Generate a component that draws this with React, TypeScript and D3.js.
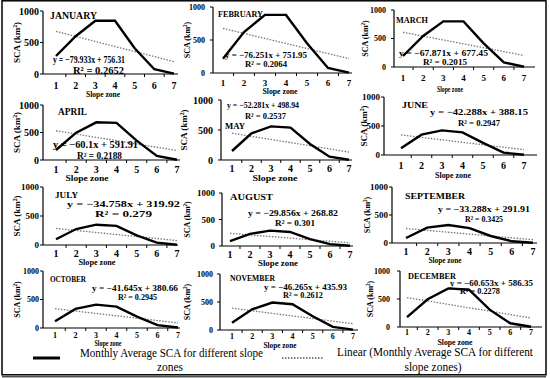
import React from "react";
import * as d3 from "d3";

const months = ["JANUARY","FEBRUARY","MARCH","APRIL","MAY","JUNE","JULY","AUGUST","SEPTEMBER","OCTOBER","NOVEMBER","DECEMBER"];
const zones = [1, 2, 3, 4, 5, 6, 7];
const yTicks = [0, 500, 1000];

const janSCA = [286, 600, 846, 845, 408, 75, 5];
const febSCA = [215, 620, 880, 880, 450, 76, 5];
const marSCA = [193, 544, 800, 800, 415, 82, 5];
const aprSCA = [182, 497, 685, 675, 351, 73, 5];
const maySCA = [150, 444, 560, 540, 267, 56, 5];
const junSCA = [115, 350, 425, 390, 210, 40, 5];
const julSCA = [100, 275, 350, 330, 165, 40, 5];
const augSCA = [90, 230, 290, 265, 130, 35, 5];
const sepSCA = [90, 275, 320, 265, 125, 30, 5];
const octSCA = [120, 335, 410, 375, 200, 50, 8];
const novSCA = [130, 370, 490, 460, 245, 55, 6];
const decSCA = [175, 495, 690, 665, 310, 66, 5];
const series = [janSCA, febSCA, marSCA, aprSCA, maySCA, junSCA, julSCA, augSCA, sepSCA, octSCA, novSCA, decSCA];

const slopes = [-79.933, -76.251, -67.871, -60.1, -52.281, -42.288, -34.758, -29.856, -33.288, -41.645, -46.265, -60.653];
const intercepts = [756.31, 751.95, 677.45, 591.91, 498.94, 388.15, 319.92, 268.82, 291.91, 380.66, 435.93, 586.35];
const r2s = ["0.2652","0.2064","0.2015","0.2188","0.2537","0.2947","0.279","0.301","0.3425","0.2945","0.2612","0.2278"];

const legendSolid = ["Monthly Average SCA for different slope", "zones"];
const legendDotted = ["Linear (Monthly Average SCA for different", "slope zones)"];

// layout (positions only)
const L = [
  { ax: 43, axEnd: 178, c1: 56, c7: 174, y1: 11, y0: 74, ytx: 39, ytf: 10, xty: 89, xtf: 10, szx: 103, szy: 97, szw: 34, ylx: 17, ylf: 9, tx: 50, ty: 19, tw: 47, tf: 10, ex: 53, ey: 63, ew: 72, rx: 73, ry: 74, rw: 51, ef: 10 },
  { ax: 213, axEnd: 352, c1: 223, c7: 349, y1: 7, y0: 73, ytx: 205, ytf: 8, xty: 86, xtf: 9, szx: 280, szy: 94, szw: 35, ylx: 187, ylf: 8, tx: 218, ty: 17, tw: 45, tf: 9, ex: 225, ey: 58, ew: 82, rx: 245, ry: 67, rw: 42, ef: 9 },
  { ax: 394, axEnd: 535, c1: 403, c7: 524, y1: 10, y0: 67, ytx: 386, ytf: 8, xty: 81, xtf: 9, szx: 450, szy: 92, szw: 26, ylx: 365, ylf: 8, tx: 396, ty: 23, tw: 32, tf: 9, ex: 399, ey: 56, ew: 89, rx: 423, ry: 65, rw: 44, ef: 8 },
  { ax: 43, axEnd: 180, c1: 56, c7: 177, y1: 105, y0: 160, ytx: 39, ytf: 10, xty: 173, xtf: 10, szx: 87, szy: 181, szw: 43, ylx: 17, ylf: 9, tx: 58, ty: 115, tw: 29, tf: 10, ex: 53, ey: 148, ew: 85, rx: 77, ry: 159, rw: 45, ef: 9.5 },
  { ax: 221, axEnd: 352, c1: 232, c7: 349, y1: 100, y0: 160, ytx: 213, ytf: 10, xty: 172, xtf: 10, szx: 275, szy: 181, szw: 45, ylx: 184, ylf: 9, tx: 225, ty: 129, tw: 20, tf: 9, ex: 227, ey: 108, ew: 72, rx: 245, ry: 119, rw: 41, ef: 9 },
  { ax: 384, axEnd: 537, c1: 401, c7: 524, y1: 97, y0: 155, ytx: 380, ytf: 9, xty: 169, xtf: 10, szx: 453, szy: 178, szw: 36, ylx: 364, ylf: 9, tx: 402, ty: 108, tw: 26, tf: 9, ex: 430, ey: 115, ew: 98, rx: 458, ry: 126, rw: 42, ef: 9 },
  { ax: 43, axEnd: 178, c1: 56, c7: 177, y1: 187, y0: 245, ytx: 39, ytf: 9, xty: 257, xtf: 10, szx: 97, szy: 265, szw: 37, ylx: 17, ylf: 9, tx: 55, ty: 198, tw: 23, tf: 9, ex: 67, ey: 207, ew: 113, rx: 95, ry: 217, rw: 57, ef: 9 },
  { ax: 222, axEnd: 353, c1: 230, c7: 350, y1: 193, y0: 246, ytx: 215, ytf: 9, xty: 258, xtf: 10, szx: 278, szy: 266, szw: 40, ylx: 187, ylf: 8, tx: 230, ty: 200, tw: 43, tf: 9, ex: 248, ey: 216, ew: 90, rx: 275, ry: 226, rw: 40, ef: 9 },
  { ax: 392, axEnd: 537, c1: 406, c7: 533, y1: 187, y0: 243, ytx: 388, ytf: 9, xty: 255, xtf: 10, szx: 445, szy: 263, szw: 33, ylx: 367, ylf: 8, tx: 405, ty: 199, tw: 60, tf: 9, ex: 438, ey: 211.5, ew: 92, rx: 465, ry: 222, rw: 38, ef: 8.5 },
  { ax: 43, axEnd: 180, c1: 55, c7: 178, y1: 271, y0: 328, ytx: 39, ytf: 8, xty: 338, xtf: 8, szx: 108, szy: 346, szw: 27, ylx: 17, ylf: 8, tx: 50, ty: 282, tw: 36, tf: 8, ex: 92, ey: 291, ew: 86, rx: 118, ry: 300, rw: 39, ef: 8 },
  { ax: 220, axEnd: 358, c1: 232, c7: 353, y1: 274, y0: 330, ytx: 213, ytf: 8, xty: 339, xtf: 8, szx: 280, szy: 347.5, szw: 33, ylx: 187, ylf: 8, tx: 230, ty: 281, tw: 45, tf: 8, ex: 264, ey: 290, ew: 83, rx: 283, ry: 298, rw: 40, ef: 8 },
  { ax: 400, axEnd: 542, c1: 407, c7: 531, y1: 271, y0: 327, ytx: 390, ytf: 8, xty: 335, xtf: 8, szx: 455, szy: 344.5, szw: 35, ylx: 370, ylf: 8, tx: 408, ty: 279, tw: 48, tf: 8, ex: 450, ey: 286, ew: 83, rx: 460, ry: 294, rw: 40, ef: 8 },
];

const FONT = "'Liberation Serif', 'Times New Roman', serif";

function Panel({ i }: { i: number }) {
  const p = L[i];
  const x = d3.scaleLinear().domain([1, 7]).range([p.c1, p.c7]);
  const y = d3.scaleLinear().domain([0, 1000]).range([p.y0, p.y1]);
  const data = series[i];
  const line = d3.line<number>().x((_, k) => x(zones[k])).y((v) => y(v));
  const trend = d3.line<number>().x((z) => x(z)).y((z) => y(slopes[i] * z + intercepts[i]));
  const step = x(2) - x(1);
  const eq = `y =  −${Math.abs(slopes[i])}x + ${intercepts[i]}`;
  return (
    <g fontFamily={FONT} fontWeight="bold" fill="#000">
      <line x1={p.ax} x2={p.ax} y1={p.y1} y2={p.y0} stroke="#000" strokeWidth={1.2} />
      <line x1={p.ax} x2={p.axEnd} y1={p.y0} y2={p.y0} stroke="#000" strokeWidth={1.2} />
      {yTicks.map((t) => (
        <g key={t}>
          <line x1={p.ax - 3} x2={p.ax} y1={y(t)} y2={y(t)} stroke="#000" strokeWidth={1} />
          <text x={p.ytx} y={y(t)} dy="0.35em" textAnchor="end" fontSize={p.ytf}>{t}</text>
        </g>
      ))}
      {zones.map((z) => (
        <g key={z}>
          {z < 7 && <line x1={x(z) + step / 2} x2={x(z) + step / 2} y1={p.y0} y2={p.y0 + 3} stroke="#000" strokeWidth={1} />}
          <text x={x(z)} y={p.xty} textAnchor="middle" fontSize={p.xtf}>{z}</text>
        </g>
      ))}
      <text x={p.szx} y={p.szy} textAnchor="middle" fontSize={7.5} textLength={p.szw} lengthAdjust="spacingAndGlyphs">Slope zone</text>
      <text transform={`translate(${p.ylx},${(p.y0 + p.y1) / 2}) rotate(-90)`} textAnchor="middle" dy="0.35em" fontSize={p.ylf}>
        SCA (km<tspan dy="-3" fontSize={p.ylf * 0.65}>2</tspan><tspan dy="3">)</tspan>
      </text>
      <path d={trend(zones) || ""} fill="none" stroke="#777" strokeWidth={1.3} strokeDasharray="1.5,1.5" />
      <path d={line(data) || ""} fill="none" stroke="#000" strokeWidth={2.4} strokeLinejoin="miter" />
      <text x={p.tx} y={p.ty} fontSize={p.tf} textLength={p.tw} lengthAdjust="spacingAndGlyphs">{months[i]}</text>
      <text x={p.ex} y={p.ey} fontSize={p.ef} textLength={p.ew} lengthAdjust="spacingAndGlyphs">{eq}</text>
      <text x={p.rx} y={p.ry} fontSize={p.ef} textLength={p.rw} lengthAdjust="spacingAndGlyphs">R² = {r2s[i]}</text>
    </g>
  );
}

export default function App() {
  return (
    <svg width={550} height={378} style={{ position: "absolute", left: 0, top: 0, background: "#fff" }}>
      <rect x={0} y={0} width={550} height={378} fill="#fff" />
      <rect x={2} y={0.8} width={544} height={374} fill="none" stroke="#000" strokeWidth={1.5} />
      <line x1={2} x2={546} y1={376.8} y2={376.8} stroke="#000" strokeWidth={1} />
      {months.map((_, i) => <Panel key={i} i={i} />)}
      <g fontFamily={FONT} fill="#000">
        <line x1={33} x2={60} y1={358} y2={358} stroke="#000" strokeWidth={3} />
        <text x={80} y={357} fontSize={11.5} textLength={183} lengthAdjust="spacingAndGlyphs">{legendSolid[0]}</text>
        <text x={170} y={371} fontSize={11.5} textAnchor="middle">{legendSolid[1]}</text>
        <line x1={282} x2={323} y1={358} y2={358} stroke="#555" strokeWidth={1.3} strokeDasharray="1.5,1.5" />
        <text x={337} y={356} fontSize={11.5} textLength={196} lengthAdjust="spacingAndGlyphs">{legendDotted[0]}</text>
        <text x={433} y={371} fontSize={11.5} textAnchor="middle">{legendDotted[1]}</text>
      </g>
    </svg>
  );
}
